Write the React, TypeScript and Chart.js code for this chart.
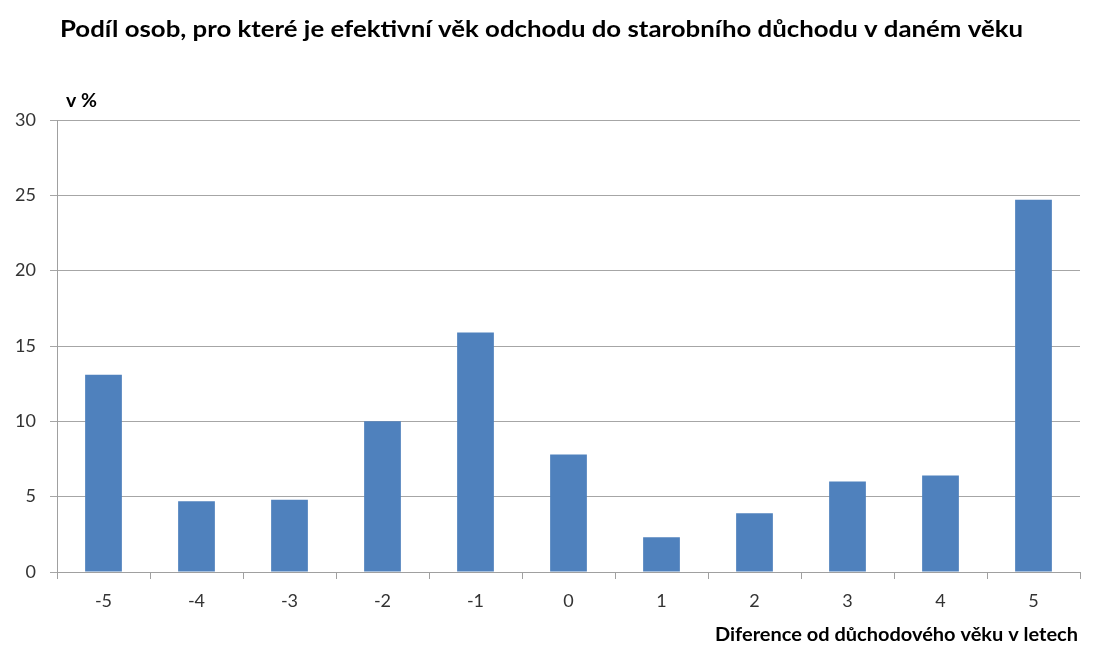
import React, { useEffect, useRef } from "react";
import { Chart, registerables } from "chart.js";

Chart.register(...registerables);

const categories = ["-5", "-4", "-3", "-2", "-1", "0", "1", "2", "3", "4", "5"];
const shares = [13.1, 4.7, 4.8, 10.0, 15.9, 7.8, 2.3, 3.9, 6.0, 6.4, 24.7];
const yTicks = [0, 5, 10, 15, 20, 25, 30];

const titleText = "Podíl osob, pro které je efektivní věk odchodu do starobního důchodu v daném věku";
const yUnitText = "v %";
const xTitleText = "Diference od důchodového věku v letech";

const FONT = "Lato, 'Open Sans', sans-serif";

function fitText(ctx: CanvasRenderingContext2D, text: string, x: number, y: number, width: number, align: "left" | "right") {
  const w = ctx.measureText(text).width;
  ctx.save();
  ctx.textBaseline = "middle";
  ctx.textAlign = "left";
  const sx = width / w;
  const left = align === "left" ? x : x - width;
  ctx.translate(left, y);
  ctx.scale(sx, 1);
  ctx.fillText(text, 0, 0);
  ctx.restore();
}

const textPlugin = {
  id: "texts",
  afterDraw(chart: any) {
    const ctx = chart.ctx as CanvasRenderingContext2D;
    ctx.save();
    ctx.fillStyle = "#000000";
    ctx.font = `bold 23px ${FONT}`;
    fitText(ctx, titleText, 60, 30, 963, "left");
    ctx.font = `bold 18px ${FONT}`;
    fitText(ctx, yUnitText, 66, 101, 31, "left");
    ctx.font = `bold 19px ${FONT}`;
    fitText(ctx, xTitleText, 1078, 635, 363, "right");
    ctx.restore();
  },
};

export default function App() {
  const ref = useRef<HTMLCanvasElement | null>(null);
  useEffect(() => {
    if (!ref.current) return;
    const chart = new Chart(ref.current, {
      type: "bar",
      data: {
        labels: categories,
        datasets: [
          {
            data: shares,
            backgroundColor: "#4F81BD",
            borderWidth: 0,
            categoryPercentage: 1,
            barPercentage: 0.395,
          },
        ],
      },
      options: {
        animation: false,
        responsive: false,
        maintainAspectRatio: false,
        layout: { padding: { top: 120, right: 18, left: 0, bottom: 0 } },
        plugins: { legend: { display: false }, title: { display: false }, tooltip: { enabled: false } },
        scales: {
          x: {
            grid: {
              offset: true,
              drawOnChartArea: false,
              drawTicks: true,
              tickLength: 7,
              color: "#A0A0A0",
            },
            border: { color: "#A0A0A0", width: 1 },
            ticks: { color: "#333333", font: { family: FONT, size: 18 }, padding: 11, maxRotation: 0 },
            afterFit(scale: any) {
              scale.height = 87;
            },
          },
          y: {
            min: 0,
            max: 30,
            afterBuildTicks(scale: any) {
              scale.ticks = yTicks.map((v) => ({ value: v }));
            },
            grid: { color: "#A6A6A6", tickLength: 7, drawTicks: true },
            border: { color: "#A0A0A0", width: 1 },
            ticks: { color: "#333333", font: { family: FONT, size: 18 }, padding: 14 },
            afterFit(scale: any) {
              scale.width = 57;
            },
          },
        },
      },
      plugins: [textPlugin],
    });
    return () => chart.destroy();
  }, []);
  return (
    <div style={{ position: "fixed", left: 0, top: 0, width: 1098, height: 659, background: "#ffffff" }}>
      <canvas ref={ref} width={1098} height={659} style={{ width: 1098, height: 659 }} />
    </div>
  );
}
